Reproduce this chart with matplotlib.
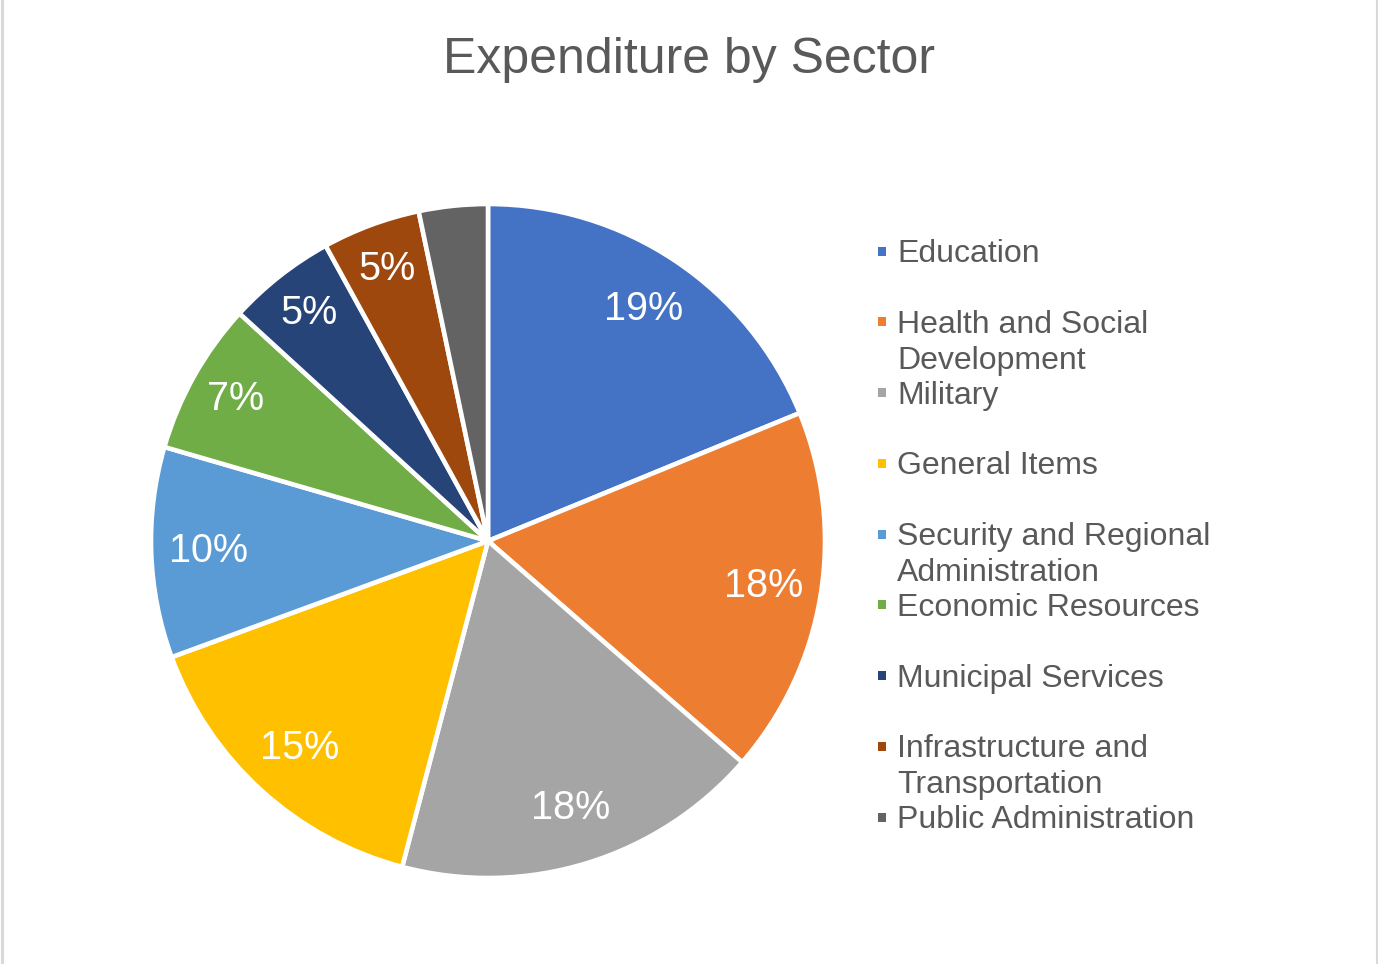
import matplotlib.pyplot as plt
from matplotlib.patches import Rectangle
import numpy as np

sectors = ["Education", "Health and Social\nDevelopment", "Military", "General Items",
           "Security and Regional\nAdministration", "Economic Resources",
           "Municipal Services", "Infrastructure and\nTransportation", "Public Administration"]
shares = [18.8, 17.6, 17.7, 15.3, 10.1, 7.3, 5.2, 4.7, 3.3]
colors = ["#4472C4", "#ED7D31", "#A5A5A5", "#FFC000", "#5B9BD5",
          "#70AD47", "#264478", "#9E480E", "#636363"]

plt.rcParams['font.family'] = ['Liberation Sans', 'DejaVu Sans']

W, H = 1378, 964
fig = plt.figure(figsize=(W / 100, H / 100), dpi=100)
fig.patch.set_facecolor("white")

# pie placed in pixels: centre (488, 541), radius 337
cx, cy, r = 488, 541, 337
ax = fig.add_axes([(cx - r) / W, (H - cy - r) / H, 2 * r / W, 2 * r / H])

wedges = ax.pie(shares, colors=colors, startangle=90, counterclock=False,
                wedgeprops=dict(edgecolor="white", linewidth=3.3))[0]
total = sum(shares)
for w, v in zip(wedges, shares):
    p = 100 * v / total
    if p < 4:  # smallest slice has no label in the original
        continue
    mid = np.deg2rad((w.theta1 + w.theta2) / 2)
    d = 0.83 if v > 8 else 0.86
    ax.text(d * np.cos(mid), d * np.sin(mid), f"{p:.0f}%", ha="center", va="center",
            color="white", fontsize=28.5)
ax.set_xlim(-1, 1)
ax.set_ylim(-1, 1)
ax.set_aspect("equal")
ax.axis("off")

fig.text(0.5, 1 - 60 / H, "Expenditure by Sector", ha="center", va="center",
         fontsize=36, color="#595959")

# legend drawn by hand, Excel style
y0, step = 262, 70.75
for i, (name, c) in enumerate(zip(sectors, colors)):
    base = y0 + i * step
    fig.patches.append(Rectangle(((882 - 4.5) / W, 1 - (base - 11 + 4.5) / H), 9 / W, 9 / H,
                                 transform=fig.transFigure, facecolor=c, edgecolor="none"))
    for j, line in enumerate(name.split("\n")):
        fig.text(897 / W, 1 - (base + j * 36) / H, line, ha="left", va="baseline",
                 fontsize=23, color="#595959")

# grey side edges of the chart area
for x in (1.5 / W, 1 - 1.5 / W):
    fig.add_artist(plt.Line2D([x, x], [0, 1], transform=fig.transFigure,
                              color="#D9D9D9", linewidth=2.2))

fig.savefig("out.png", dpi=100)
